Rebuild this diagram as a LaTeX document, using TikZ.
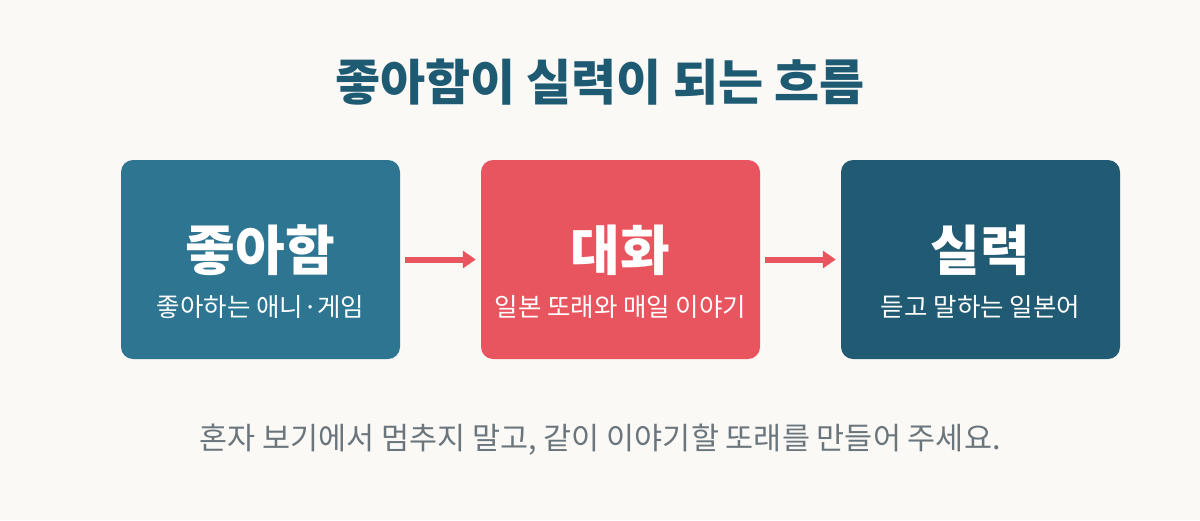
\documentclass[tikz,border=0pt]{standalone}
\usepackage{fontspec}
\setmainfont{Noto Sans CJK KR}
\usetikzlibrary{arrows.meta}
\definecolor{bg}{HTML}{FAF9F6}
\definecolor{cA}{HTML}{2E7592}
\definecolor{cB}{HTML}{E9555F}
\definecolor{cC}{HTML}{215A73}
\definecolor{ttl}{HTML}{1F5A73}
\definecolor{note}{HTML}{6B757C}
\tikzset{
  card/.style={rounded corners=12pt, minimum width=279pt, minimum height=199pt, inner sep=0pt},
  big/.style={text=white, font=\fontsize{54}{58}\selectfont\bfseries, inner sep=0pt},
  small/.style={text=white, font=\fontsize{25.5}{28}\selectfont, inner sep=0pt},
  flow/.style={draw=cB, line width=6pt, -{Triangle[length=13pt,width=17pt]}}
}
\begin{document}
\begin{tikzpicture}[x=1pt,y=-1pt]
\useasboundingbox[fill=bg] (0,0) rectangle (1200,520);
\node[text=ttl, font=\fontsize{49}{52}\selectfont\bfseries, inner sep=0pt] (title) at (600,82) {좋아함이 실력이 되는 흐름};
\node[card, fill=cA] (b1) at (260.5,259.5) {};
\node[card, fill=cB] (b2) at (620.5,259.5) {};
\node[card, fill=cC] (b3) at (980.5,259.5) {};
\node[big] (t1) at (260.5,250) {좋아함};
\node[big] (t2) at (620.5,250) {대화};
\node[big] (t3) at (980.5,250) {실력};
\node[small] (s1) at (260.5,307) {좋아하는 애니·게임};
\node[small] (s2) at (620.5,307) {일본 또래와 매일 이야기};
\node[small] (s3) at (980.5,307) {듣고 말하는 일본어};
\draw[flow] ([xshift=5pt]b1.east) -- ([xshift=-5pt]b2.west);
\draw[flow] ([xshift=5pt]b2.east) -- ([xshift=-5pt]b3.west);
\node[text=note, font=\fontsize{30.5}{33}\selectfont, inner sep=0pt] (foot) at (600,440) {혼자 보기에서 멈추지 말고, 같이 이야기할 또래를 만들어 주세요.};
\end{tikzpicture}
\end{document}
